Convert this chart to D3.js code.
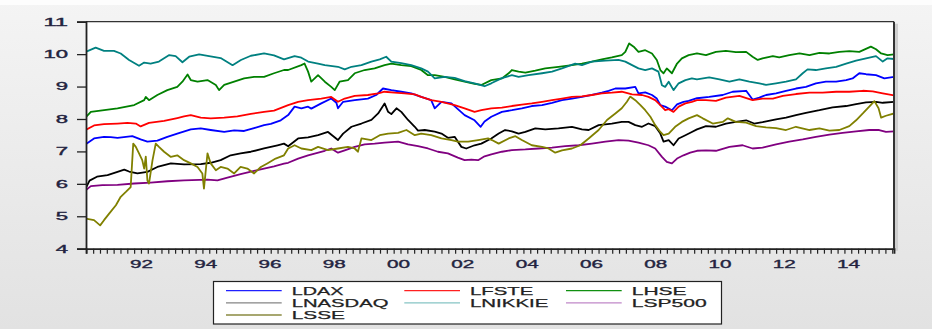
<!DOCTYPE html>
<html><head><meta charset="utf-8">
<script src="https://cdn.jsdelivr.net/npm/d3@7"></script>
<style>html,body{margin:0;padding:0;background:#efefef;} svg{display:block;}</style>
</head><body><svg id="c" width="932" height="329"></svg>
<script>
const seriesNames = ["LDAX","LFSTE","LHSE","LNASDAQ","LNIKKIE","LSP500","LSSE"];
const xTickYears = [1992,1994,1996,1998,2000,2002,2004,2006,2008,2010,2012,2014];
const xTickLabels = ["92","94","96","98","00","02","04","06","08","10","12","14"];
const yTickValues = [4,5,6,7,8,9,10,11];

const LDAX = [[1990.28,7.22],[1990.54,7.40],[1990.85,7.45],[1991.06,7.44],[1991.27,7.42],[1991.73,7.47],[1991.99,7.37],[1992.2,7.30],[1992.51,7.33],[1992.82,7.45],[1993.13,7.55],[1993.55,7.68],[1993.86,7.71],[1994.17,7.66],[1994.59,7.60],[1994.9,7.65],[1995.21,7.63],[1995.52,7.72],[1995.83,7.81],[1996.04,7.85],[1996.35,7.96],[1996.58,8.12],[1996.78,8.38],[1996.99,8.33],[1997.2,8.38],[1997.3,8.32],[1997.61,8.48],[1997.92,8.63],[1998.08,8.50],[1998.13,8.33],[1998.29,8.53],[1998.65,8.58],[1999.06,8.63],[1999.32,8.74],[1999.53,8.94],[1999.79,8.89],[2000.1,8.84],[2000.41,8.79],[2000.72,8.68],[2001.03,8.58],[2001.14,8.33],[2001.35,8.53],[2001.66,8.48],[2002.07,8.12],[2002.38,7.96],[2002.57,7.76],[2002.69,7.92],[2002.9,8.07],[2003.23,8.22],[2003.54,8.27],[2003.85,8.33],[2004.16,8.40],[2004.48,8.43],[2004.79,8.50],[2005.1,8.58],[2005.41,8.63],[2005.72,8.68],[2006.03,8.74],[2006.34,8.81],[2006.55,8.87],[2006.76,8.94],[2007.07,8.94],[2007.38,8.99],[2007.48,8.79],[2007.69,8.82],[2007.9,8.74],[2008.05,8.63],[2008.16,8.43],[2008.31,8.38],[2008.52,8.27],[2008.68,8.45],[2008.88,8.53],[2009.04,8.56],[2009.3,8.64],[2009.68,8.68],[2010.1,8.74],[2010.41,8.84],[2010.83,8.87],[2011.03,8.60],[2011.24,8.66],[2011.45,8.74],[2011.76,8.79],[2012.07,8.87],[2012.38,8.94],[2012.69,8.99],[2013.0,9.10],[2013.31,9.15],[2013.63,9.15],[2013.94,9.20],[2014.14,9.25],[2014.35,9.41],[2014.56,9.38],[2014.87,9.35],[2015.13,9.25],[2015.43,9.30]];

const LFSTE = [[1990.28,7.66],[1990.54,7.80],[1990.85,7.84],[1991.27,7.86],[1991.58,7.88],[1991.84,7.86],[1991.99,7.77],[1992.25,7.88],[1992.72,7.94],[1993.13,8.03],[1993.34,8.08],[1993.55,8.12],[1993.86,8.04],[1994.17,8.02],[1994.59,8.04],[1995.0,8.08],[1995.42,8.16],[1995.83,8.22],[1996.14,8.26],[1996.58,8.43],[1996.89,8.53],[1997.2,8.58],[1997.61,8.63],[1997.92,8.68],[1998.13,8.53],[1998.34,8.63],[1998.65,8.71],[1999.06,8.74],[1999.38,8.79],[1999.58,8.84],[1999.89,8.81],[2000.2,8.79],[2000.52,8.76],[2000.72,8.68],[2001.03,8.58],[2001.35,8.53],[2001.76,8.43],[2002.07,8.33],[2002.38,8.22],[2002.59,8.27],[2002.9,8.33],[2003.23,8.35],[2003.54,8.40],[2003.85,8.44],[2004.16,8.48],[2004.48,8.53],[2004.79,8.58],[2005.1,8.63],[2005.41,8.68],[2005.72,8.70],[2006.03,8.74],[2006.34,8.79],[2006.65,8.81],[2006.96,8.84],[2007.28,8.76],[2007.59,8.74],[2007.79,8.68],[2008.0,8.58],[2008.16,8.43],[2008.31,8.27],[2008.42,8.30],[2008.57,8.22],[2008.73,8.38],[2008.94,8.48],[2009.14,8.53],[2009.3,8.58],[2009.58,8.58],[2009.89,8.56],[2010.2,8.66],[2010.62,8.71],[2011.03,8.58],[2011.34,8.63],[2011.66,8.63],[2011.97,8.71],[2012.38,8.77],[2012.8,8.81],[2013.21,8.81],[2013.63,8.84],[2014.04,8.84],[2014.46,8.87],[2014.77,8.85],[2015.08,8.79],[2015.43,8.73]];

const LHSE = [[1990.28,8.05],[1990.44,8.22],[1991.27,8.33],[1991.79,8.43],[1992.1,8.58],[1992.15,8.68],[1992.25,8.58],[1992.51,8.74],[1992.82,8.89],[1993.13,8.99],[1993.29,9.15],[1993.45,9.37],[1993.55,9.20],[1993.76,9.15],[1994.07,9.20],[1994.33,9.05],[1994.43,8.89],[1994.59,9.05],[1994.9,9.15],[1995.21,9.25],[1995.52,9.30],[1995.83,9.30],[1996.14,9.41],[1996.45,9.51],[1996.58,9.51],[1996.99,9.66],[1997.09,9.71],[1997.2,9.46],[1997.3,9.15],[1997.51,9.35],[1997.72,9.15],[1997.92,8.99],[1998.03,8.89],[1998.18,9.15],[1998.44,9.20],[1998.65,9.41],[1998.96,9.51],[1999.27,9.56],[1999.58,9.66],[1999.79,9.71],[2000.1,9.66],[2000.41,9.63],[2000.72,9.51],[2000.93,9.35],[2001.14,9.35],[2001.45,9.30],[2001.76,9.22],[2002.07,9.15],[2002.38,9.08],[2002.59,9.05],[2002.9,9.20],[2003.23,9.25],[2003.44,9.41],[2003.54,9.51],[2003.75,9.46],[2003.96,9.43],[2004.27,9.49],[2004.58,9.56],[2004.99,9.61],[2005.41,9.66],[2005.72,9.71],[2006.03,9.77],[2006.34,9.84],[2006.65,9.90],[2006.96,9.97],[2007.07,10.07],[2007.19,10.33],[2007.33,10.23],[2007.48,10.07],[2007.69,10.12],[2007.9,10.02],[2008.05,9.82],[2008.16,9.51],[2008.26,9.41],[2008.36,9.56],[2008.52,9.41],[2008.68,9.71],[2008.83,9.87],[2009.04,9.97],[2009.3,10.02],[2009.58,9.97],[2009.89,10.07],[2010.2,10.10],[2010.51,10.06],[2010.83,10.07],[2011.03,9.92],[2011.19,9.82],[2011.34,9.87],[2011.66,9.94],[2011.86,9.90],[2012.17,9.97],[2012.49,10.02],[2012.8,9.97],[2013.11,10.04],[2013.42,10.02],[2013.73,10.07],[2014.04,10.09],[2014.35,10.07],[2014.71,10.23],[2014.87,10.15],[2015.03,10.02],[2015.23,9.97],[2015.43,9.99]];

const LNASDAQ = [[1990.3,5.90],[1990.4,6.10],[1990.63,6.22],[1990.96,6.27],[1991.27,6.37],[1991.48,6.44],[1991.63,6.38],[1991.89,6.32],[1992.2,6.37],[1992.51,6.52],[1992.93,6.63],[1993.34,6.60],[1993.86,6.61],[1994.17,6.65],[1994.48,6.73],[1994.79,6.88],[1995.1,6.94],[1995.42,6.99],[1995.83,7.09],[1996.25,7.19],[1996.45,7.24],[1996.58,7.16],[1996.89,7.40],[1997.2,7.43],[1997.51,7.50],[1997.82,7.60],[1998.13,7.35],[1998.29,7.55],[1998.55,7.76],[1998.86,7.86],[1999.17,7.97],[1999.38,8.17],[1999.58,8.48],[1999.69,8.22],[1999.79,8.15],[1999.95,8.33],[2000.1,8.22],[2000.31,7.97],[2000.52,7.76],[2000.62,7.64],[2000.83,7.66],[2001.14,7.61],[2001.35,7.55],[2001.55,7.42],[2001.76,7.45],[2001.97,7.14],[2002.12,7.09],[2002.38,7.19],[2002.59,7.24],[2002.9,7.40],[2003.13,7.55],[2003.33,7.66],[2003.54,7.62],[2003.75,7.55],[2003.96,7.60],[2004.27,7.71],[2004.58,7.68],[2004.99,7.71],[2005.41,7.76],[2005.72,7.68],[2005.93,7.66],[2006.24,7.81],[2006.65,7.86],[2006.96,7.91],[2007.17,7.91],[2007.38,7.81],[2007.59,7.76],[2007.79,7.86],[2008.0,7.78],[2008.16,7.55],[2008.26,7.30],[2008.42,7.35],[2008.57,7.19],[2008.73,7.40],[2008.94,7.50],[2009.14,7.60],[2009.3,7.68],[2009.58,7.78],[2009.89,7.76],[2010.2,7.86],[2010.51,7.91],[2010.83,7.96],[2011.08,7.86],[2011.34,7.90],[2011.76,7.99],[2012.07,8.04],[2012.38,8.12],[2012.69,8.19],[2013.11,8.27],[2013.52,8.36],[2013.94,8.40],[2014.25,8.46],[2014.56,8.51],[2014.87,8.53],[2015.08,8.50],[2015.43,8.53]];

const LNIKKIE = [[1990.28,10.07],[1990.59,10.2],[1990.85,10.10],[1991.16,10.10],[1991.37,10.02],[1991.63,9.82],[1991.94,9.64],[1992.1,9.74],[1992.3,9.71],[1992.56,9.77],[1992.88,9.97],[1993.08,9.94],[1993.29,9.75],[1993.5,9.92],[1993.81,9.99],[1994.12,9.94],[1994.48,9.88],[1994.85,9.66],[1995.11,9.82],[1995.42,9.95],[1995.83,10.02],[1996.14,9.96],[1996.45,9.84],[1996.78,9.94],[1996.99,9.89],[1997.2,9.77],[1997.51,9.71],[1997.72,9.66],[1998.13,9.61],[1998.34,9.53],[1998.55,9.61],[1998.86,9.66],[1999.17,9.77],[1999.43,9.84],[1999.63,9.92],[1999.79,9.77],[2000.1,9.72],[2000.41,9.66],[2000.72,9.56],[2000.93,9.46],[2001.14,9.25],[2001.45,9.30],[2001.76,9.27],[2002.07,9.17],[2002.38,9.10],[2002.69,9.01],[2002.9,9.10],[2003.23,9.26],[2003.54,9.35],[2003.75,9.30],[2004.06,9.35],[2004.48,9.41],[2004.79,9.46],[2005.1,9.56],[2005.51,9.71],[2005.72,9.66],[2006.03,9.77],[2006.45,9.80],[2006.86,9.82],[2007.07,9.77],[2007.28,9.66],[2007.48,9.56],[2007.69,9.51],[2007.9,9.56],[2008.1,9.46],[2008.21,9.04],[2008.31,8.99],[2008.42,9.15],[2008.57,8.89],[2008.73,9.10],[2008.94,9.20],[2009.14,9.25],[2009.3,9.22],[2009.68,9.28],[2010.0,9.22],[2010.31,9.15],[2010.62,9.22],[2010.93,9.15],[2011.24,9.10],[2011.45,9.05],[2011.76,9.10],[2012.07,9.15],[2012.38,9.22],[2012.59,9.41],[2012.74,9.53],[2013.0,9.51],[2013.31,9.56],[2013.63,9.61],[2013.94,9.71],[2014.25,9.80],[2014.56,9.87],[2014.87,9.94],[2015.08,9.77],[2015.23,9.87],[2015.43,9.85]];

const LSP500 = [[1990.28,5.80],[1990.44,5.93],[1990.8,5.96],[1991.27,5.97],[1991.79,6.01],[1992.3,6.04],[1992.82,6.08],[1993.34,6.11],[1994.07,6.13],[1994.38,6.11],[1994.69,6.19],[1995.1,6.30],[1995.52,6.40],[1995.83,6.47],[1996.14,6.54],[1996.45,6.62],[1996.58,6.65],[1996.89,6.78],[1997.2,6.88],[1997.72,7.02],[1997.92,7.09],[1998.13,6.96],[1998.34,7.03],[1998.65,7.14],[1998.96,7.22],[1999.27,7.24],[1999.58,7.27],[2000.0,7.30],[2000.31,7.22],[2000.62,7.16],[2000.93,7.09],[2001.24,6.99],[2001.55,6.94],[2001.86,6.81],[2002.07,6.73],[2002.28,6.75],[2002.49,6.73],[2002.69,6.85],[2002.9,6.91],[2003.23,6.99],[2003.54,7.04],[2003.96,7.06],[2004.37,7.09],[2004.79,7.12],[2005.2,7.16],[2005.62,7.19],[2006.03,7.24],[2006.45,7.30],[2006.86,7.35],[2007.17,7.33],[2007.48,7.27],[2007.79,7.19],[2008.0,7.09],[2008.21,6.83],[2008.36,6.68],[2008.52,6.63],[2008.68,6.78],[2008.88,6.88],[2009.09,6.96],[2009.3,7.02],[2009.58,7.03],[2009.89,7.02],[2010.31,7.14],[2010.72,7.19],[2011.03,7.09],[2011.34,7.12],[2011.76,7.22],[2012.17,7.30],[2012.59,7.37],[2013.0,7.45],[2013.42,7.52],[2013.83,7.57],[2014.25,7.62],[2014.66,7.66],[2014.97,7.66],[2015.18,7.60],[2015.43,7.62]];

const LSSE = [[1990.28,4.93],[1990.54,4.88],[1990.73,4.72],[1990.85,4.88],[1991.01,5.08],[1991.22,5.34],[1991.37,5.60],[1991.53,5.75],[1991.68,5.90],[1991.76,7.24],[1991.84,7.14],[1991.94,6.94],[1992.04,6.73],[1992.1,6.47],[1992.15,6.84],[1992.2,6.11],[1992.25,6.01],[1992.36,6.73],[1992.46,7.24],[1992.56,7.14],[1992.72,6.99],[1992.93,6.83],[1993.13,6.88],[1993.34,6.73],[1993.55,6.63],[1993.76,6.52],[1993.91,6.32],[1993.96,5.85],[1994.07,6.94],[1994.17,6.63],[1994.33,6.42],[1994.48,6.52],[1994.69,6.47],[1994.9,6.32],[1995.1,6.52],[1995.31,6.47],[1995.52,6.32],[1995.73,6.52],[1995.93,6.63],[1996.19,6.78],[1996.45,6.88],[1996.58,7.09],[1996.78,7.19],[1996.99,7.09],[1997.3,7.04],[1997.51,7.14],[1997.82,7.04],[1998.13,7.09],[1998.44,7.14],[1998.65,7.09],[1998.75,6.99],[1998.86,7.40],[1999.17,7.35],[1999.43,7.50],[1999.69,7.55],[2000.0,7.57],[2000.26,7.66],[2000.52,7.50],[2000.72,7.55],[2001.03,7.50],[2001.35,7.40],[2001.66,7.35],[2001.86,7.30],[2002.18,7.30],[2002.49,7.35],[2002.8,7.40],[2002.92,7.35],[2003.13,7.24],[2003.44,7.40],[2003.65,7.47],[2003.85,7.35],[2004.16,7.19],[2004.48,7.14],[2004.68,7.09],[2004.89,6.96],[2005.1,7.03],[2005.41,7.09],[2005.67,7.19],[2005.93,7.40],[2006.24,7.66],[2006.5,7.97],[2006.76,8.17],[2006.96,8.33],[2007.12,8.53],[2007.22,8.69],[2007.38,8.58],[2007.54,8.43],[2007.69,8.27],[2007.85,8.07],[2008.0,7.81],[2008.16,7.60],[2008.26,7.50],[2008.42,7.55],[2008.62,7.76],[2008.83,7.91],[2009.04,8.02],[2009.3,8.12],[2009.48,8.02],[2009.79,7.86],[2010.1,7.91],[2010.26,8.02],[2010.51,7.91],[2010.83,7.89],[2011.14,7.78],[2011.45,7.74],[2011.76,7.72],[2012.07,7.66],[2012.38,7.76],[2012.8,7.66],[2013.11,7.71],[2013.42,7.64],[2013.73,7.66],[2014.04,7.78],[2014.25,7.96],[2014.46,8.17],[2014.66,8.38],[2014.82,8.55],[2014.95,8.33],[2015.03,8.04],[2015.18,8.10],[2015.43,8.17]];

const seriesData = [LDAX, LFSTE, LHSE, LNASDAQ, LNIKKIE, LSP500, LSSE];
const lineColors = ["#0000ff","#ff0000","#008000","#000000","#008080","#800080","#808000"];
const legendColors = ["#2020ff","#ff2020","#109010","#858585","#86c4c4","#c088c8","#8a8a40"];

const svg = d3.select("#c");
const W = 932, H = 329;
const defs = svg.append("defs");
const bg = defs.append("linearGradient").attr("id","bg").attr("x1",0).attr("y1",0).attr("x2",0).attr("y2",1);
bg.append("stop").attr("offset","0").attr("stop-color","#f4f4f4");
bg.append("stop").attr("offset","1").attr("stop-color","#e2e2e2");
svg.append("rect").attr("width",W).attr("height",H).attr("fill","url(#bg)");
svg.append("rect").attr("width",W).attr("height",5).attr("fill","#fdfdfd");

const plot = {l:86, r:894, t:21.7, b:248.7};
const x = d3.scaleLinear().domain([1990.29, 2015.43]).range([plot.l, plot.r]);
const y = d3.scaleLinear().domain([4, 11]).range([plot.b, plot.t]);

svg.append("rect").attr("x",plot.r).attr("y",plot.t+2).attr("width",4).attr("height",plot.b-plot.t).attr("fill","#cfcfcf");
svg.append("rect").attr("x",plot.l).attr("y",plot.t).attr("width",plot.r-plot.l).attr("height",plot.b-plot.t).attr("fill","#fff");

const clip = defs.append("clipPath").attr("id","pc");
clip.append("rect").attr("x",plot.l).attr("y",plot.t).attr("width",plot.r-plot.l).attr("height",plot.b-plot.t);

const line = d3.line().x(d=>x(d[0])).y(d=>y(d[1]));
const g = svg.append("g").attr("clip-path","url(#pc)");
seriesData.forEach((s,i)=>{
  g.append("path").datum(s).attr("d",line).attr("fill","none")
   .attr("stroke",lineColors[i]).attr("stroke-width",1.8).attr("stroke-linejoin","round");
});

svg.append("line").attr("x1",plot.l).attr("x2",plot.r).attr("y1",plot.t).attr("y2",plot.t).attr("stroke","#333").attr("stroke-width",1.2);
svg.append("line").attr("x1",plot.r).attr("x2",plot.r).attr("y1",plot.t).attr("y2",plot.b).attr("stroke","#333").attr("stroke-width",2);

const yAxis = svg.append("g").attr("transform",`translate(${plot.l},0)`)
  .call(d3.axisLeft(y).tickValues(yTickValues).tickSize(9).tickPadding(9).tickFormat(d3.format("d")));
yAxis.select(".domain").attr("stroke","#222").attr("stroke-width",1.8);
yAxis.selectAll(".tick line").attr("stroke","#222").attr("stroke-width",1.3);
yAxis.selectAll(".tick text").attr("font-family","Liberation Sans, Arial, sans-serif")
  .attr("font-size",10.5).attr("fill","#23233f").attr("stroke","#23233f").attr("stroke-width",0.35)
  .attr("textLength",d=>String(d).length*12.3).attr("lengthAdjust","spacingAndGlyphs");

const minor = d3.range(1990.3, 2015.44, 0.2125);
const xAxis = svg.append("g").attr("transform",`translate(0,${plot.b})`)
  .call(d3.axisBottom(x).tickValues(minor).tickSize(5).tickFormat(""));
xAxis.select(".domain").attr("stroke","#222").attr("stroke-width",1.8);
xAxis.selectAll(".tick line").attr("stroke","#222").attr("stroke-width",1.2);
const xLab = svg.append("g").attr("transform",`translate(0,${plot.b})`)
  .call(d3.axisBottom(x).tickValues(xTickYears).tickSize(0).tickPadding(11).tickFormat((d,i)=>xTickLabels[i]));
xLab.select(".domain").remove();
xLab.selectAll(".tick text").attr("font-family","Liberation Sans, Arial, sans-serif")
  .attr("font-size",11.5).attr("fill","#23233f").attr("stroke","#23233f").attr("stroke-width",0.35)
  .attr("textLength",23).attr("lengthAdjust","spacingAndGlyphs");

const leg = {x:213.5, y:281.5, w:508, h:42.5};
svg.append("rect").attr("x",leg.x).attr("y",leg.y).attr("width",leg.w).attr("height",leg.h)
  .attr("fill","#fff").attr("stroke","#222").attr("stroke-width",1.2);
const colX = [226, 404.3, 566];
const rowY = [290.7, 302.8, 315];
const textW = [51.7,63.3,55,96.7,78.3,75,53.3];
seriesNames.forEach((n,i)=>{
  const c = i%3, r = Math.floor(i/3);
  const lx = colX[c], ly = rowY[r];
  svg.append("line").attr("x1",lx).attr("x2",lx+55.7).attr("y1",ly).attr("y2",ly)
    .attr("stroke",legendColors[i]).attr("stroke-width",1.3);
  svg.append("text").attr("x",lx+65.7).attr("y",ly+4).text(n)
    .attr("font-family","Liberation Sans, Arial, sans-serif").attr("font-size",11).attr("fill","#222")
    .attr("stroke","#222").attr("stroke-width",0.25)
    .attr("textLength",textW[i]).attr("lengthAdjust","spacingAndGlyphs");
});
</script></body></html>
